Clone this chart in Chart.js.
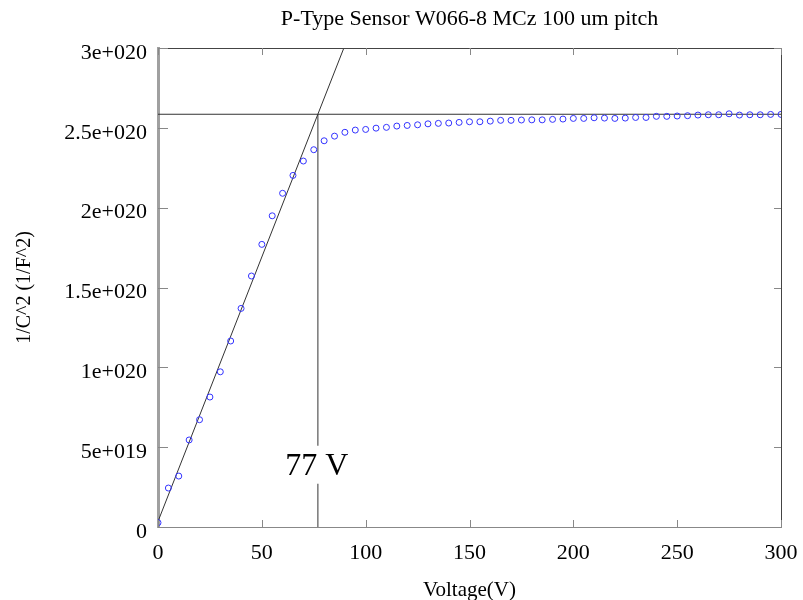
<!DOCTYPE html>
<html>
<head>
<meta charset="utf-8">
<script src="https://cdn.jsdelivr.net/npm/chart.js@4"></script>
<style>
  html, body { margin: 0; padding: 0; background: #fff; }
</style>
</head>
<body>
<canvas id="cvChart" width="803" height="600"></canvas>
<script>
// bias voltage (V)
const voltage = [0, 5, 10, 15, 20, 25, 30, 35, 40, 45, 50, 55, 60, 65, 70, 75, 80, 85, 90, 95,
    100, 105, 110, 115, 120, 125, 130, 135, 140, 145, 150, 155, 160, 165, 170, 175, 180, 185, 190, 195,
    200, 205, 210, 215, 220, 225, 230, 235, 240, 245, 250, 255, 260, 265, 270, 275, 280, 285, 290, 295, 300];
// 1/C^2 (1/F^2)
const invC2 = [0.027e20, 0.244e20, 0.319e20, 0.545e20, 0.672e20, 0.814e20, 0.972e20, 1.165e20, 1.369e20, 1.572e20,
    1.770e20, 1.949e20, 2.090e20, 2.202e20, 2.292e20, 2.363e20, 2.419e20, 2.448e20, 2.472e20, 2.486e20,
    2.490e20, 2.498e20, 2.503e20, 2.511e20, 2.515e20, 2.519e20, 2.525e20, 2.528e20, 2.530e20, 2.534e20,
    2.538e20, 2.538e20, 2.542e20, 2.547e20, 2.547e20, 2.549e20, 2.550e20, 2.550e20, 2.553e20, 2.555e20,
    2.559e20, 2.559e20, 2.563e20, 2.561e20, 2.559e20, 2.561e20, 2.565e20, 2.565e20, 2.572e20, 2.572e20,
    2.574e20, 2.576e20, 2.580e20, 2.582e20, 2.582e20, 2.588e20, 2.580e20, 2.582e20, 2.582e20, 2.584e20, 2.584e20];

// linear fit of the rising part, and the depletion knee
const fitX = [0, 89.5];
const fitY = [0.035e20, 3e20];
const kneeV = 77;
const kneeY = 2.585e20;
const kneeLabel = '77 V';
const kneeLabelY = 0.39e20;

const yTickLabels = ['0', '5e+019', '1e+020', '1.5e+020', '2e+020', '2.5e+020', '3e+020'];
const chartTitle = 'P-Type Sensor W066-8 MCz 100 um pitch';

const serif = '"Liberation Serif", "Times New Roman", serif';

// title over the plot area, inward tick marks, box and the knee label
const framePlugin = {
    id: 'frame',
    afterDatasetsDraw(chart) {
        const { ctx, chartArea: a, scales: { x, y } } = chart;
        ctx.save();
        ctx.fillStyle = '#000';
        ctx.font = '22px ' + serif;
        ctx.textAlign = 'center';
        ctx.textBaseline = 'middle';
        ctx.fillText(chartTitle, (a.left + a.right) / 2, 19);

        ctx.lineWidth = 1;
        // top and right border
        ctx.strokeStyle = '#444';
        ctx.beginPath();
        ctx.moveTo(a.left, a.top + 0.5);
        ctx.lineTo(a.right + 0.5, a.top + 0.5);
        ctx.lineTo(a.right + 0.5, a.bottom);
        ctx.stroke();
        // ticks
        ctx.strokeStyle = '#888';
        ctx.beginPath();
        x.ticks.forEach(t => {
            const px = Math.round(x.getPixelForValue(t.value)) + 0.5;
            ctx.moveTo(px, a.bottom); ctx.lineTo(px, a.bottom - 7);
            ctx.moveTo(px, a.top); ctx.lineTo(px, a.top + 7);
        });
        y.ticks.forEach(t => {
            const py = Math.round(y.getPixelForValue(t.value)) + 0.5;
            ctx.moveTo(a.left, py); ctx.lineTo(a.left + 10, py);
            ctx.moveTo(a.right, py); ctx.lineTo(a.right - 7, py);
        });
        ctx.stroke();
        // knee label with white box over the vertical line
        ctx.font = '32px ' + serif;
        const lx = x.getPixelForValue(kneeV) - 1;
        const ly = y.getPixelForValue(kneeLabelY);
        const w = ctx.measureText(kneeLabel).width;
        ctx.fillStyle = '#fff';
        ctx.fillRect(lx - w / 2 - 2, ly - 19, w + 4, 38);
        ctx.fillStyle = '#000';
        ctx.fillText(kneeLabel, lx, ly + 2);
        ctx.restore();
    }
};

window.onload = function () {
    const ctx = document.getElementById('cvChart').getContext('2d');
    new Chart(ctx, {
        type: 'scatter',
        data: {
            datasets: [{
                label: '1/C^2',
                data: voltage.map((v, i) => ({ x: v, y: invC2[i] })),
                borderColor: 'rgb(50, 50, 255)',
                backgroundColor: 'rgba(0, 0, 0, 0)',
                pointRadius: 3,
                pointBorderWidth: 1,
                showLine: false,
                order: 0
            }, {
                label: 'fit',
                data: fitX.map((v, i) => ({ x: v, y: fitY[i] })),
                borderColor: '#333',
                borderWidth: 1,
                pointRadius: 0,
                showLine: true,
                order: 1
            }, {
                label: 'plateau',
                data: [{ x: 0, y: kneeY }, { x: 300, y: kneeY }],
                borderColor: '#333',
                borderWidth: 1,
                pointRadius: 0,
                showLine: true,
                order: 1
            }, {
                label: 'knee',
                data: [{ x: kneeV, y: 0 }, { x: kneeV, y: kneeY }],
                borderColor: '#333',
                borderWidth: 1,
                pointRadius: 0,
                showLine: true,
                order: 1
            }]
        },
        options: {
            responsive: false,
            animation: false,
            layout: { padding: { left: 0, right: 22, top: 48, bottom: 0 } },
            plugins: {
                legend: { display: false },
                tooltip: { enabled: false },
                title: { display: false }
            },
            scales: {
                x: {
                    type: 'linear',
                    min: 0,
                    max: 300,
                    grid: { display: false, drawTicks: false },
                    border: { display: true, color: '#888', width: 1 },
                    ticks: {
                        stepSize: 50,
                        padding: 13,
                        color: '#000',
                        maxRotation: 0,
                        font: { family: serif, size: 22 }
                    },
                    title: {
                        display: true,
                        text: 'Voltage(V)',
                        color: '#000',
                        font: { family: serif, size: 21 },
                        padding: { top: 0, bottom: -3 }
                    },
                    afterFit(s) {
                        s.height = 73;
                        s.paddingLeft = 0;
                        s.paddingRight = 0;
                    }
                },
                y: {
                    type: 'linear',
                    min: 0,
                    max: 3e20,
                    grid: { display: false, drawTicks: false },
                    border: { display: true, color: '#a0a0a0', width: 3 },
                    ticks: {
                        stepSize: 5e19,
                        padding: 11,
                        labelOffset: 5,
                        color: '#000',
                        font: { family: serif, size: 22 },
                        callback: (value, index) => yTickLabels[index]
                    },
                    title: {
                        display: true,
                        text: '1/C^2 (1/F^2)',
                        color: '#000',
                        font: { family: serif, size: 20 },
                        padding: { top: 13, bottom: 0 }
                    },
                    afterFit(s) {
                        s.width = 158;
                        s.paddingTop = 0;
                        s.paddingBottom = 0;
                    }
                }
            }
        },
        plugins: [framePlugin]
    });
};
</script>
</body>
</html>
